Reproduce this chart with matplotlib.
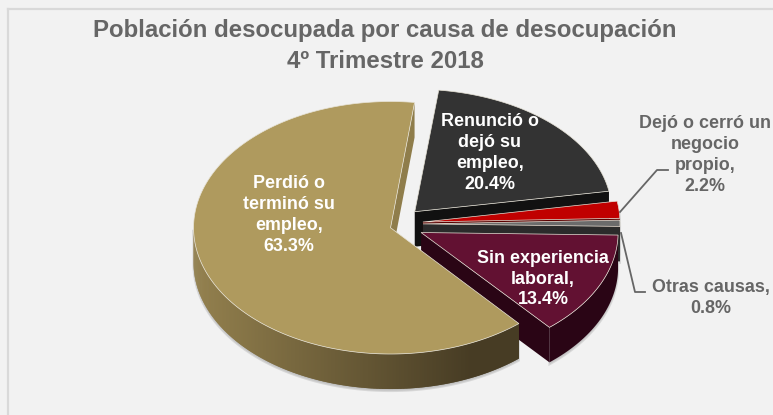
import matplotlib
matplotlib.use("Agg")
import matplotlib.pyplot as plt
from matplotlib.patches import Polygon
from matplotlib.colors import to_rgb
import numpy as np

plt.rcParams["font.family"] = ["Liberation Sans", "DejaVu Sans"]

categories = ["Renunció o\ndejó su\nempleo,", "Dejó o cerró un\nnegocio\npropio,", "Otras causas,",
              "Sin experiencia\nlaboral,", "Perdió o\nterminó su\nempleo,"]
values = [20.4, 2.2, 0.8, 13.4, 63.3]

top_colors = ["#333333", "#C00000", "#6B6B6B", "#621132", "#AF9A5E"]
side_colors = ["#111111", "#5A0000", "#2B2B2B", "#2A0515", "#8F7D4B"]
explode = [17, 20, 20, 20, 13]
ry_scale = [0.98, 1.0, 1.0, 1.0, 1.01]
label_xy = [(490, 153), (705, 155), (711, 298), (543, 279), (289, 215)]
label_colors = ["white", "#666666", "#666666", "white", "white"]

cx, cy = 403, 224
rx, ry = 197, 125
depth = 35
start = 7.0


def pt(a, theta, k=1.0):
    t = np.radians(theta)
    return np.array([a[0] + rx * np.sin(t), a[1] - ry * k * np.cos(t)])


def draw_slice(ax, a, t0, t1, top, side, z, k, shade=None):
    d = np.array([0, depth])
    # cut face at the end of the slice
    e = pt(a, t1, k)
    ax.add_patch(Polygon([a, e, e + d, a + d], fc=side, ec="none", zorder=z))
    # outer wall
    lo, hi = max(t0, 85), min(t1, 270)
    if hi > lo:
        ts = np.linspace(lo, hi, 300)
        wall = [pt(a, t, k) for t in ts] + [pt(a, t, k) + d for t in ts[::-1]]
        ax.add_patch(Polygon(np.array(wall) + [0, 2], fc="#AAAAAA", ec="#CCCCCC", lw=1.5, alpha=0.7, zorder=0.5))
        if shade is None:
            ax.add_patch(Polygon(wall, fc=side, ec="none", zorder=z))
        else:
            # strips overlap the next one so no seams show
            for j in range(len(ts) - 1, 0, -1):
                p = pt(a, ts[j], k)
                q = pt(a, ts[max(j - 2, 0)], k)
                f = np.clip((p[0] - shade[2]) / (shade[3] - shade[2]), 0, 1)
                col = tuple((1 - f) * np.array(to_rgb(shade[0])) + f * np.array(to_rgb(shade[1])))
                ax.add_patch(Polygon([p, q, q + d, p + d], fc=col, ec="none", zorder=z))
    # top
    arc = [pt(a, t, k) for t in np.linspace(t0, t1, 200)]
    ax.add_patch(Polygon([a] + arc, fc=top, ec="#E8E4D8", lw=0.5, zorder=z + 0.5))


fig = plt.figure(figsize=(7.73, 4.15), dpi=100, facecolor="#F2F2F2")
ax = fig.add_axes([0, 0, 1, 1])
ax.set_xlim(0, 773)
ax.set_ylim(415, 0)
ax.axis("off")

ax.plot([8, 8], [415, 9], color="#D9D9D9", lw=1.6, zorder=0.1)
ax.plot([8, 773], [9, 9], color="#D9D9D9", lw=1.6, zorder=0.1)

angles = start + np.cumsum([0] + values) / sum(values) * 360
for i, v in enumerate(values):
    t0, t1 = angles[i], angles[i + 1]
    mid = np.radians((t0 + t1) / 2)
    a = np.array([cx + explode[i] * np.sin(mid), cy - explode[i] * np.cos(mid)])
    shade = ("#94814E", "#473C24", 192, 470) if i == 4 else None
    draw_slice(ax, a, t0, t1, top_colors[i], side_colors[i], 1 + i, ry_scale[i], shade)

for i, cat in enumerate(categories):
    ax.text(label_xy[i][0], label_xy[i][1], f"{cat}\n{values[i]}%", color=label_colors[i],
            fontsize=12.9, fontweight="bold", ha="center", va="center", linespacing=1.3, zorder=20)

ax.plot([620, 657, 668], [212, 170, 170], color="#666666", lw=1.3, zorder=15)
ax.plot([621, 635, 645], [233, 292, 292], color="#666666", lw=1.3, zorder=15)

ax.text(385, 31, "Población desocupada por causa de desocupación", color="#666666", fontsize=17.3,
        fontweight="bold", ha="center", va="center", zorder=20)
ax.text(385, 61, "4º Trimestre 2018", color="#666666", fontsize=17.3,
        fontweight="bold", ha="center", va="center", zorder=20)

fig.savefig("out.png", dpi=100, facecolor=fig.get_facecolor())
